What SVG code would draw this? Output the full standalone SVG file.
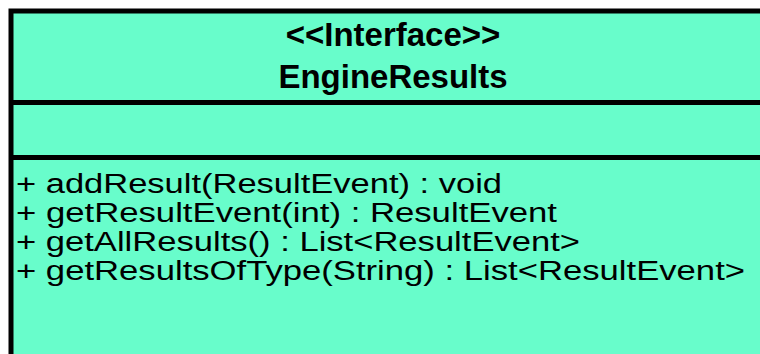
<svg xmlns="http://www.w3.org/2000/svg" width="760" height="354" viewBox="0 0 760 354">
<style>
.box{fill:#68FDCB;stroke:#000;stroke-width:5}
.div{stroke:#000;stroke-width:5}
.t{font-family:"Liberation Sans",Arial,sans-serif;fill:#000}
.title{font-size:33px;font-weight:bold;text-anchor:middle}
.m{font-size:27px}
</style>
<rect width="760" height="354" fill="#ffffff"/>
<g id="EngineResults">
<rect class="box" x="11" y="11" width="780" height="360"/>
<line class="div" x1="11" y1="102.5" x2="791" y2="102.5"/>
<line class="div" x1="11" y1="157.5" x2="791" y2="157.5"/>
<text class="t title" x="393" y="46">&lt;&lt;Interface&gt;&gt;</text>
<text class="t title" x="393" y="88">EngineResults</text>
<text class="t m" x="16" y="193" textLength="486" lengthAdjust="spacingAndGlyphs">+ addResult(ResultEvent) : void</text>
<text class="t m" x="16" y="222" textLength="541" lengthAdjust="spacingAndGlyphs">+ getResultEvent(int) : ResultEvent</text>
<text class="t m" x="16" y="251" textLength="564" lengthAdjust="spacingAndGlyphs">+ getAllResults() : List&lt;ResultEvent&gt;</text>
<text class="t m" x="16" y="280" textLength="729" lengthAdjust="spacingAndGlyphs">+ getResultsOfType(String) : List&lt;ResultEvent&gt;</text>
</g>
</svg>
